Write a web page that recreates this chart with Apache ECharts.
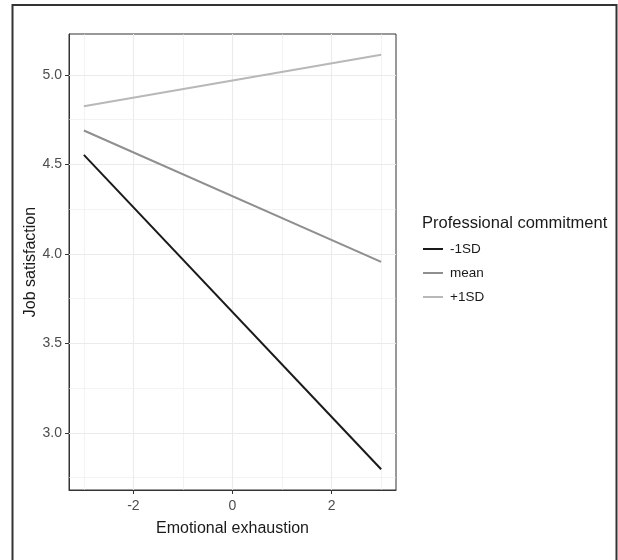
<!DOCTYPE html>
<html>
<head>
<meta charset="utf-8">
<script src="https://cdn.jsdelivr.net/npm/echarts@6/dist/echarts.min.js"></script>
<style>
  html, body { margin: 0; padding: 0; background: #fff; }
  #grafik { width: 618px; height: 560px; }
</style>
</head>
<body>
<div id="grafik"></div>
<script>
// data
var xVals = [-3, 3];
var lowSD = [4.553, 2.797];
var meanPC = [4.689, 3.955];
var highSD = [4.825, 5.112];
var seriesNames = ['-1SD', 'mean', '+1SD'];
var lineColors = ['#1a1a1a', '#8f8f8f', '#b8b8b8'];

var xTicks = [-2, 0, 2];
var xMinor = [-3, -1, 1, 3];
var yTicks = [3.0, 3.5, 4.0, 4.5, 5.0];
var yMinor = [2.75, 3.25, 3.75, 4.25, 4.75];

var grafik = echarts.init(document.getElementById('grafik'));

function pairs(ys) {
  return xVals.map(function (x, i) { return [x, ys[i]]; });
}

// grid lines like theme_bw, drawn on the axes' scales
var gridLines = [];
xTicks.forEach(function (v) { gridLines.push({ xAxis: v, lineStyle: { width: 1.1 } }); });
xMinor.forEach(function (v) { gridLines.push({ xAxis: v, lineStyle: { width: 0.6 } }); });
yTicks.forEach(function (v) { gridLines.push({ yAxis: v, lineStyle: { width: 1.1 } }); });
yMinor.forEach(function (v) { gridLines.push({ yAxis: v, lineStyle: { width: 0.6 } }); });

var lines = [lowSD, meanPC, highSD].map(function (ys, i) {
  return {
    name: seriesNames[i],
    type: 'line',
    data: pairs(ys),
    showSymbol: false,
    symbol: 'none',
    z: 10,
    lineStyle: { color: lineColors[i], width: 2 },
    itemStyle: { color: lineColors[i] }
  };
});

var option = {
  animation: false,
  backgroundColor: '#fff',
  textStyle: { fontFamily: 'Liberation Sans, Arial, sans-serif' },
  graphic: [
    {
      type: 'rect',
      shape: { x: 12.5, y: 5, width: 604, height: 570 },
      style: { fill: 'none', stroke: '#333', lineWidth: 2 },
      silent: true
    }
  ],
  title: {
    text: 'Professional commitment',
    left: 417,
    top: 210,
    textStyle: { fontSize: 16.5, fontWeight: 'normal', color: '#1a1a1a' }
  },
  legend: {
    orient: 'vertical',
    left: 418,
    top: 237,
    data: seriesNames,
    icon: 'rect',
    itemWidth: 20,
    itemHeight: 2,
    itemGap: 10,
    textStyle: { fontSize: 13.5, color: '#1a1a1a', padding: [0, 0, 0, 2] }
  },
  grid: {
    left: 69,
    right: 222,
    top: 34,
    bottom: 70,
    show: true,
    borderColor: '#333',
    borderWidth: 1,
    backgroundColor: '#fff'
  },
  xAxis: {
    type: 'value',
    min: -3.3,
    max: 3.3,
    name: 'Emotional exhaustion',
    nameLocation: 'middle',
    nameGap: 31,
    nameMoveOverlap: false,
    nameTextStyle: { fontSize: 16, color: '#1a1a1a' },
    axisLine: { show: true, onZero: false, lineStyle: { color: '#333' } },
    axisTick: { show: true, customValues: xTicks, length: 4, lineStyle: { color: '#333' } },
    axisLabel: { customValues: xTicks, fontSize: 14, color: '#4d4d4d', margin: 9 },
    splitLine: { show: false }
  },
  yAxis: {
    type: 'value',
    min: 2.681,
    max: 5.228,
    name: 'Job satisfaction',
    nameLocation: 'middle',
    nameGap: 30,
    nameMoveOverlap: false,
    nameTextStyle: { fontSize: 16, color: '#1a1a1a' },
    axisLine: { show: true, onZero: false, lineStyle: { color: '#333' } },
    axisTick: { show: true, customValues: yTicks, length: 4, lineStyle: { color: '#333' } },
    axisLabel: {
      customValues: yTicks,
      fontSize: 14,
      color: '#4d4d4d',
      margin: 7,
      formatter: function (v) { return v.toFixed(1); }
    },
    splitLine: { show: false }
  },
  series: lines.concat([
    {
      name: 'grid',
      type: 'line',
      data: [],
      silent: true,
      z: 1,
      markLine: {
        silent: true,
        z: 1,
        symbol: 'none',
        animation: false,
        label: { show: false },
        lineStyle: { color: '#ebebeb', type: 'solid' },
        data: gridLines
      }
    }
  ])
};
grafik.setOption(option);
</script>
</body>
</html>
